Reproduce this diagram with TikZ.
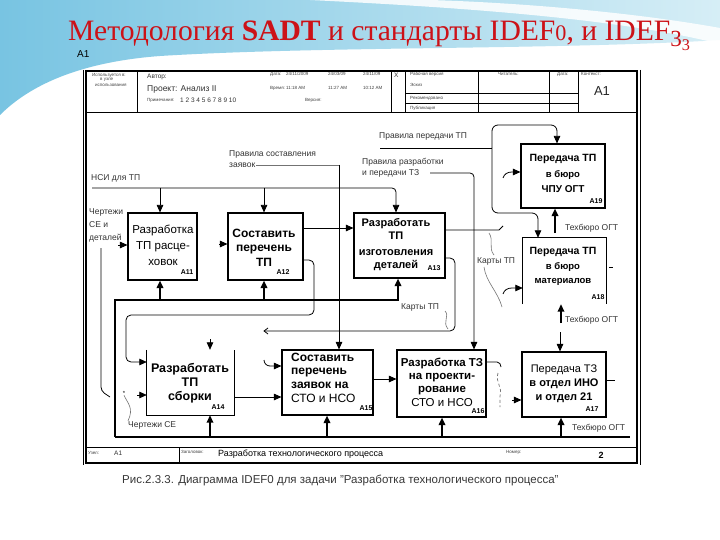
\documentclass[tikz,border=0pt]{standalone}
\usepackage{graphicx}
\usepackage{fontspec}
\setmainfont{Liberation Sans}
\newfontfamily\titlefont{Liberation Serif}
\usetikzlibrary{arrows.meta,calc}
\definecolor{ttl}{RGB}{204,18,24}
\definecolor{sky}{RGB}{120,196,226}
\definecolor{skyl}{RGB}{214,238,246}
\definecolor{capg}{RGB}{55,55,55}
\newcommand{\osz}{\scalebox{0.75}{0}}
\newcommand{\osth}{\raisebox{-0.2em}{\scalebox{0.78}{3}}\raisebox{-0.32em}{\scalebox{0.55}{3}}}
\begin{document}
\begin{tikzpicture}[x=1pt,y=-1pt,
  box/.style={draw,line width=1.1pt,inner sep=0pt},
  nobox/.style={inner sep=0pt},
  ln/.style={line width=0.8pt},
  fl/.style={line width=0.5pt,black!55},
  mech/.style={line width=1.7pt},
  arr/.style={-{Triangle[length=7.5pt,width=6.5pt]}},
  btxt/.style={font=\fontsize{11.5}{14.5}\selectfont\bfseries,align=center,inner sep=0pt},
  bid/.style={font=\fontsize{7}{8}\selectfont\bfseries,inner sep=0pt},
  lbl/.style={font=\fontsize{8.5}{11.5}\selectfont,inner sep=0pt,text=black!80,anchor=west,align=left},
  tiny/.style={font=\fontsize{4.5}{5}\selectfont,inner sep=0pt,anchor=west,text=black!75},
  small/.style={font=\fontsize{6.5}{7}\selectfont,inner sep=0pt,anchor=west,text=black!80},
]
\useasboundingbox (0,0) rectangle (720,540);
% background
\fill[white] (0,0) rectangle (720,540);
\shade[left color=sky, right color=skyl] (0,0) -- (720,0) -- (720,40)
  .. controls (560,50) and (320,46) .. (160,56)
  .. controls (80,62) and (30,85) .. (0,115) -- cycle;
\fill[white,opacity=0.85] (310,0) .. controls (430,6) and (610,16) .. (720,44) -- (720,28)
  .. controls (620,10) and (500,2) .. (430,0) -- cycle;
% title
\node[font=\titlefont\fontsize{29.6}{29.6}\selectfont, text=ttl, anchor=base west, inner sep=0pt] (title) at (68,41)
  {Методология \textbf{SADT} и стандарты IDEF\osz, и IDEF\osth};

% frame
\node[font=\fontsize{10}{10}\selectfont,anchor=west,inner sep=0pt] (a1top) at (77,54) {A1};
\draw[line width=1.2pt] (86,71) rectangle (637,463);
\draw[line width=0.8pt] (83,70) -- (83,465);
\draw[line width=0.8pt] (640,70) -- (640,465);
% header
\draw[line width=1pt] (86,113) -- (637,113);
\foreach \x in {137,391,405,478,549,578} \draw[line width=0.8pt] (\x,71) -- (\x,113);
\draw[line width=0.8pt] (405,93) -- (578,93);
\draw[line width=0.8pt] (405,103) -- (578,103);
\node[tiny] at (92,75) {Используется в:};
\node[tiny] at (100,80) {в узле};
\node[tiny] at (95,85) {использования};
\node[small] at (147,77) {Автор:};
\node[font=\fontsize{8.5}{9}\selectfont,inner sep=0pt,anchor=west,text=black!80] at (147,89) {Проект: Анализ II};
\node[tiny] at (147,100) {Примечания:};
\node[small] at (180,100) {1 2 3 4 5 6 7 8 9 10};
\node[tiny] at (270,74) {Дата:};
\node[tiny] at (286,74) {24/11/2009};
\node[tiny] at (328,74) {24/03/09};
\node[tiny] at (363,74) {24/11/09};
\node[tiny] at (270,88) {Время:};
\node[tiny] at (286,88) {11:18 AM};
\node[tiny] at (328,88) {11:27 AM};
\node[tiny] at (363,88) {10:12 AM};
\node[tiny] at (305,100) {Версия:};
\node[small] at (394,75) {X};
\node[tiny] at (410,74) {Рабочая версия};
\node[tiny] at (410,85) {Эскиз};
\node[tiny] at (410,98) {Рекомендовано};
\node[tiny] at (410,108) {Публикация};
\node[tiny] at (498,74) {Читатель:};
\node[tiny] at (557,74) {Дата:};
\node[tiny] at (581,74) {Контекст:};
\node[font=\fontsize{13}{13}\selectfont,inner sep=0pt,text=black!85] (a1ctx) at (602,91) {A1};
% footer
\draw[line width=1pt] (86,447) -- (637,447);
\draw[line width=0.8pt] (179,447) -- (179,463);
\node[tiny] at (88,453) {Узел:};
\node[small] at (114,453) {A1};
\node[tiny] at (181,452) {Заголовок:};
\node[font=\fontsize{9}{9}\selectfont,inner sep=0pt,anchor=west] at (218,454) {Разработка технологического процесса};
\node[tiny] at (506,452) {Номер:};
\node[font=\fontsize{9}{9}\selectfont\bfseries,inner sep=0pt] at (601,455) {2};
% caption
\node[font=\fontsize{11.5}{12}\selectfont,inner sep=0pt,anchor=west,text=capg] (cap) at (122,480)
  {Рис.2.3.3. Диаграмма IDEF0 для задачи "Разработка технологического процесса"};

% ---------- boxes ----------
\node[box,minimum width=69pt,minimum height=67pt] (A11) at (162.5,246.5) {};
\node[btxt,font=\fontsize{11.5}{16}\selectfont] (A11t) at (163,245) {Разработка\\ТП расце-\\ховок};
\node[bid] at (187,272) {A11};

\node[box,minimum width=75pt,minimum height=67pt] (A12) at (265.5,246.5) {};
\node[btxt,font=\fontsize{12}{14.5}\selectfont\bfseries] (A12t) at (264,247.5) {Составить\\перечень\\ТП};
\node[bid] at (283,272) {A12};

\node[box,minimum width=91pt,minimum height=65pt] (A13) at (399.5,245.5) {};
\node[btxt,font=\fontsize{11}{13}\selectfont\bfseries] (A13t) at (396,245) {Разработать\\ТП\\[3pt]изготовления\\деталей};
\node[bid] at (434,268) {A13};

\node[box,minimum width=84pt,minimum height=64pt] (A19) at (563,176) {};
\node[btxt,font=\fontsize{10.5}{15.5}\selectfont\bfseries] (A19t) at (563,173.5) {Передача ТП\\{\fontsize{9.5}{10}\selectfont в бюро}\\{\fontsize{10}{10}\selectfont ЧПУ ОГТ}};
\node[bid] at (596,201) {A19};

\node[nobox,minimum width=83pt,minimum height=66pt] (A18) at (564.5,271) {};
\draw[line width=1.1pt] (A18.south west) -- (A18.north west) -- (A18.north east) -- (A18.south east);
\node[btxt,font=\fontsize{10.5}{14.5}\selectfont\bfseries] (A18t) at (563,266.5) {Передача ТП\\{\fontsize{9.5}{10}\selectfont в бюро}\\{\fontsize{9.5}{10}\selectfont материалов}};
\node[bid] at (598,297) {A18};

\node[nobox,minimum width=87pt,minimum height=65pt] (A14) at (190.5,382.5) {};
\draw[line width=1.1pt] (A14.north west) -- (A14.south west) -- (A14.south east) -- (A14.north east);
\node[btxt,font=\fontsize{12.5}{14}\selectfont\bfseries] (A14t) at (190,383) {Разработать\\ТП\\сборки};
\node[bid] at (218,407) {A14};

\node[box,minimum width=91pt,minimum height=65pt] (A15) at (327.5,382.5) {};
\node[btxt,anchor=west,align=left,font=\fontsize{12}{13.7}\selectfont\bfseries] (A15t) at (291,377.5) {Составить\\перечень\\заявок на\\{\mdseries СТО и НСО}};
\node[bid] at (366,408) {A15};

\node[box,minimum width=89pt,minimum height=67pt] (A16) at (441.5,383.5) {};
\node[btxt,font=\fontsize{11.5}{13.3}\selectfont\bfseries] (A16t) at (442,382) {Разработка ТЗ\\на проекти-\\рование\\{\mdseries СТО и НСО}};
\node[bid] at (478,411) {A16};

\node[box,minimum width=84pt,minimum height=65pt] (A17) at (564,384.5) {};
\node[btxt,font=\fontsize{11}{14}\selectfont\bfseries] (A17t) at (564,384) {{\mdseries Передача ТЗ}\\в отдел ИНО\\и отдел 21};
\node[bid] at (592,409) {A17};

% ---------- labels ----------
\node[lbl] (nsi) at (91,178) {НСИ для ТП};
\node[lbl] (prz) at (229,159) {Правила составления\\заявок};
\node[lbl] (prp) at (379,136) {Правила передачи ТП};
\node[lbl,font=\fontsize{8.5}{11}\selectfont] (prt) at (362,168) {Правила разработки\\и передачи ТЗ};
\node[lbl,font=\fontsize{8.5}{13}\selectfont] (chsd) at (89,225) {Чертежи\\СЕ и\\деталей};
\node[lbl] (kt1) at (477,261) {Карты ТП};
\node[lbl] (tb1) at (565,228) {Техбюро ОГТ};
\node[lbl] (kt2) at (401,307) {Карты ТП};
\node[lbl] (tb2) at (565,320) {Техбюро ОГТ};
\node[lbl] (chse) at (128,425) {Чертежи СЕ};
\node[lbl] (tb3) at (572,428) {Техбюро ОГТ};

% ---------- connectors ----------
% controls
\draw[ln,arr,rounded corners=4pt] (92,188) -- (396,188) -- (A13.north -| 396,0);
\draw[ln,arr] (160,188) -- (A11.north -| 160,0);
\draw[ln,arr] (264,188) -- (A12.north -| 264,0);
\draw[fl] (256,165) -- (339,165);
\draw[ln,arr,rounded corners=3pt] (339,165) -- (A15.north -| 339,0);
\draw[ln,arr,rounded corners=4pt] (430,173) -- (474,173) -- (A16.north -| 474,0);
\draw[ln] (380,148) -- (492,148);
\draw[ln,arr,rounded corners=6pt] (492,148) -- (492,125) -- (557,125) -- (A19.north -| 557,0);
\draw[ln,arr,rounded corners=6pt] (492,148) -- (492,213) -- (538,213) -- (A18.north -| 538,0);
\draw[ln,arr] (560,332) -- (A17.north -| 560,0);
\draw[ln,arr] (210,339) -- (A14.north -| 210,0);
% inputs / outputs
\draw[ln,arr] (118,245) -- (A11.west |- 0,245);
\draw[ln,arr] (219,244) -- (A12.west |- 0,244);
\draw[ln,arr] (A12.east |- 0,228) -- (A13.west |- 0,228);
\draw[ln,arr,rounded corners=5pt] (A12.east |- 0,260) -- (314,260) -- (314,315) -- (126,315) -- (126,362) -- (A14.west |- 0,362);
\draw[ln] (A13.east |- 0,230) -- (499,230) -- (503,226);
\draw[fl,line width=0.6pt] (489,233) .. controls (494,240) and (488,248) .. (494,255);
\draw[fl,line width=0.6pt] (484,267) .. controls (486,282) and (498,292) .. (502,307);
\draw[ln,arr] (503,294) to[out=75,in=180] (512,288) -- (A18.west |- 0,288);
\draw[ln] (A18.east |- 0,267) ++(3,0) -- ++(4,0);
\draw[ln,arr] (503,178) to[out=75,in=180] (512,172) -- (A19.west |- 0,172);
\draw[ln,rounded corners=5pt] (A13.east |- 0,258) -- (455,258) -- (455,331) -- (264,331);
\draw[ln] (268,328) -- (264,331) -- (268,334);
\draw[fl,line width=0.6pt] (445,311) .. controls (450,316) and (442,322) .. (448,329);
\draw[ln,arr] (264,360) to[out=-90,in=180] (270,366) -- (A15.west |- 0,366);
\draw[ln,arr] (A14.east |- 0,397) -- (A15.west |- 0,397);
\draw[ln,arr] (A15.east |- 0,379) -- (A16.west |- 0,379);
\draw[ln] (A16.east |- 0,362) -- (497,362) to[out=0,in=90] (501,367);
\draw[fl,line width=0.7pt,dash pattern=on 3pt off 2.5pt] (498,373) .. controls (495,382) and (503,388) .. (500,396) -- (500,407);
\draw[ln,arr] (512,400) -- (A17.west |- 0,400);
\draw[ln] (A17.east |- 0,380) -- (615,380);
\draw[ln,rounded corners=4pt] (101,248) -- (101,391) -- (110,397);
\draw[ln,arr] (137,395) -- (A14.west |- 0,395);
\node[font=\fontsize{6}{6}\selectfont,inner sep=0pt] (star) at (124,393) {*};
\draw[fl,line width=0.6pt] (star.south) .. controls (128,404) and (134,408) .. (chse.north west);
% mechanisms
\draw[mech,arr] (555,233) -- (A19.south -| 555,0);
\draw[mech,arr] (561,323) -- (A18.south -| 561,0);
\draw[mech,arr] (115,437) -- (115,300) -- (398,300) -- (A13.south -| 398,0);
\draw[mech,arr] (160,300) -- (A11.south -| 160,0);
\draw[mech,arr] (264,300) -- (A12.south -| 264,0);
\draw[mech] (115,437) -- (630,437);
\draw[mech,arr] (210,437) -- (A14.south -| 210,0);
\draw[mech,arr] (327,437) -- (A15.south -| 327,0);
\draw[mech,arr] (442,437) -- (A16.south -| 442,0);
\draw[mech,arr] (561,437) -- (A17.south -| 561,0);
\end{tikzpicture}
\end{document}
